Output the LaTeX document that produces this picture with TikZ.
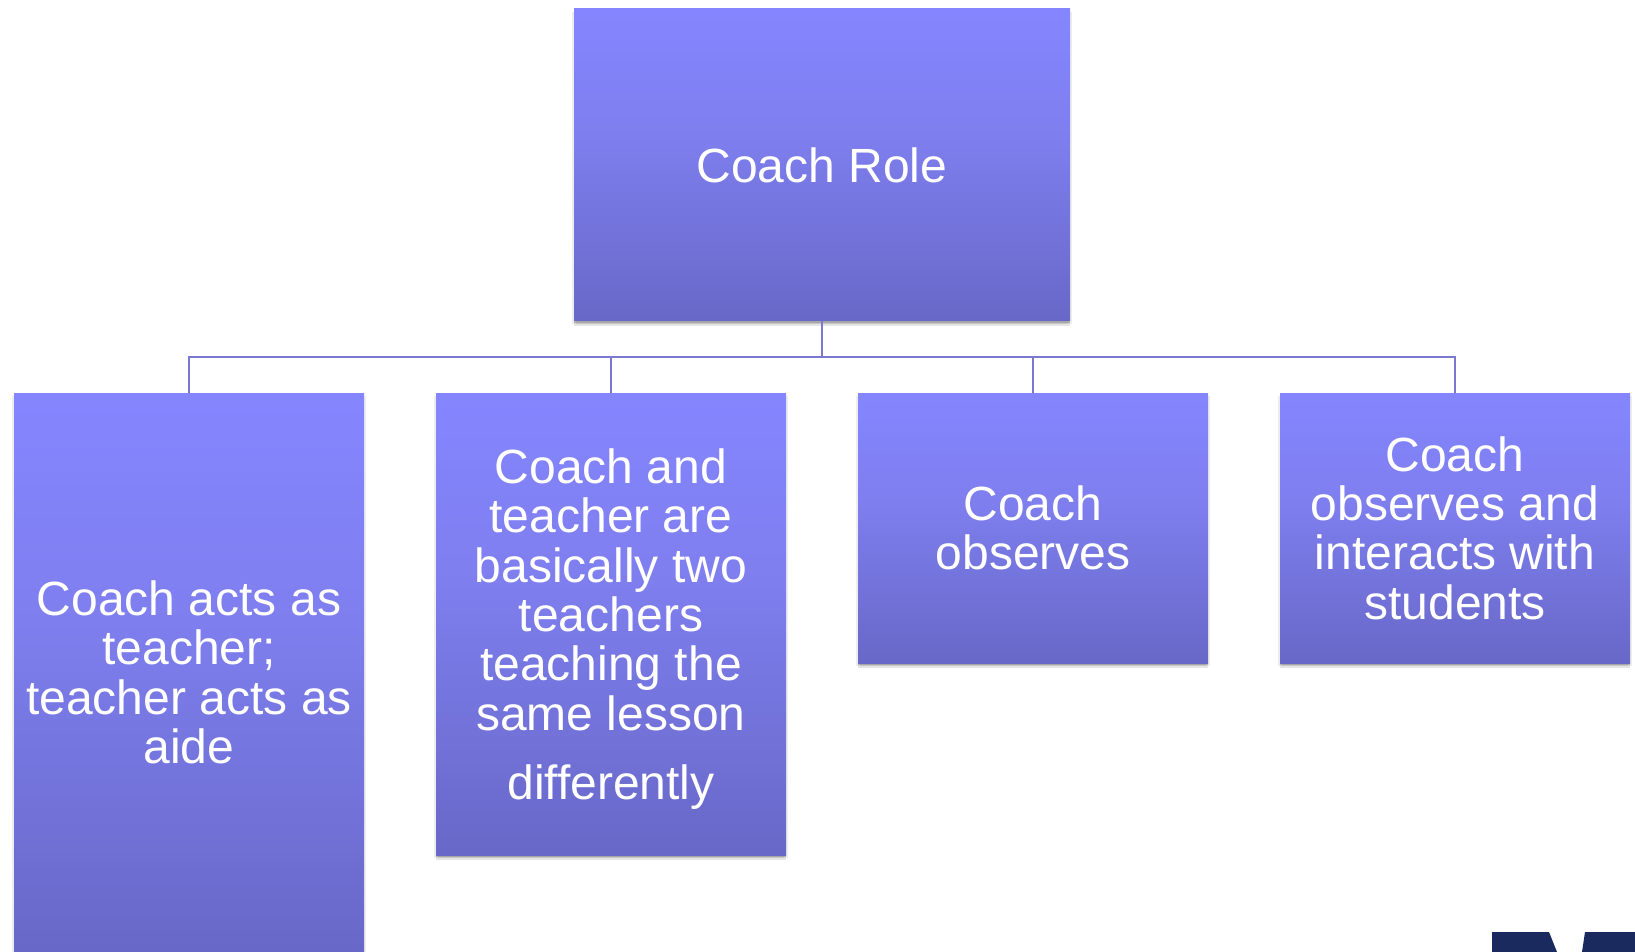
\documentclass[tikz,border=0pt]{standalone}
\usepackage{fontspec}
\setmainfont{Liberation Sans}
\usetikzlibrary{shadows}
\definecolor{boxtop}{HTML}{8585FF}
\definecolor{boxmid}{HTML}{7F7FF0}
\definecolor{boxbot}{HTML}{6868C8}
\definecolor{linkcol}{HTML}{7B78D0}
\definecolor{logonavy}{HTML}{1A2A5E}
\pgfdeclareverticalshading{boxfade}{100bp}{color(0bp)=(boxbot); color(25bp)=(boxbot); color(56bp)=(boxmid); color(75bp)=(boxtop); color(100bp)=(boxtop)}
\tikzset{
	rolebox/.style={
		shading=boxfade, text=white, align=center, inner sep=0pt,
		font=\fontsize{36}{37}\selectfont, minimum width=262.5pt,
		general shadow={shadow xshift=1.2pt, shadow yshift=-2pt, fill=black, opacity=0.07},
		general shadow={shadow xshift=-1.2pt, shadow yshift=-2pt, fill=black, opacity=0.07},
		general shadow={shadow yshift=-3.5pt, fill=black, opacity=0.10},
		general shadow={shadow yshift=-1.5pt, fill=black, opacity=0.16}
	},
	rolelink/.style={draw=linkcol, line width=1.5pt}
}
\begin{document}
\begin{tikzpicture}[x=0.75pt, y=-0.75pt]
	\useasboundingbox (0,0) rectangle (1635,952);
	% top box
	\node[rolebox, minimum width=372pt, minimum height=234pt] (coach) at (822,165) {Coach Role};
	% role boxes
	\node[rolebox, minimum height=419.25pt] (acts) at (189,672.5) {Coach acts as\\teacher;\\teacher acts as\\aide};
	\node[rolebox, minimum height=346.5pt] (two) at (611,624) {\rule{0pt}{34pt}Coach and\\teacher are\\basically two\\teachers\\teaching the\\same lesson\\[15.2pt]differently};
	\node[rolebox, minimum height=202.5pt] (observes) at (1033,528) {Coach\\observes};
	\node[rolebox, minimum height=202.5pt] (interacts) at (1455,528) {Coach\\observes and\\interacts with\\students};
	% links
	\foreach \target in {acts,two,observes,interacts}
	{
		\draw[rolelink] (coach.south) -- ++(0,36) -| (\target.north);
	}
	% logo corner
	\fill[logonavy] (1492,932) -- (1549,932) -- (1557,952) -- (1492,952) -- cycle;
	\fill[logonavy] (1585,932) -- (1635,932) -- (1635,952) -- (1582,952) -- cycle;
\end{tikzpicture}
\end{document}
